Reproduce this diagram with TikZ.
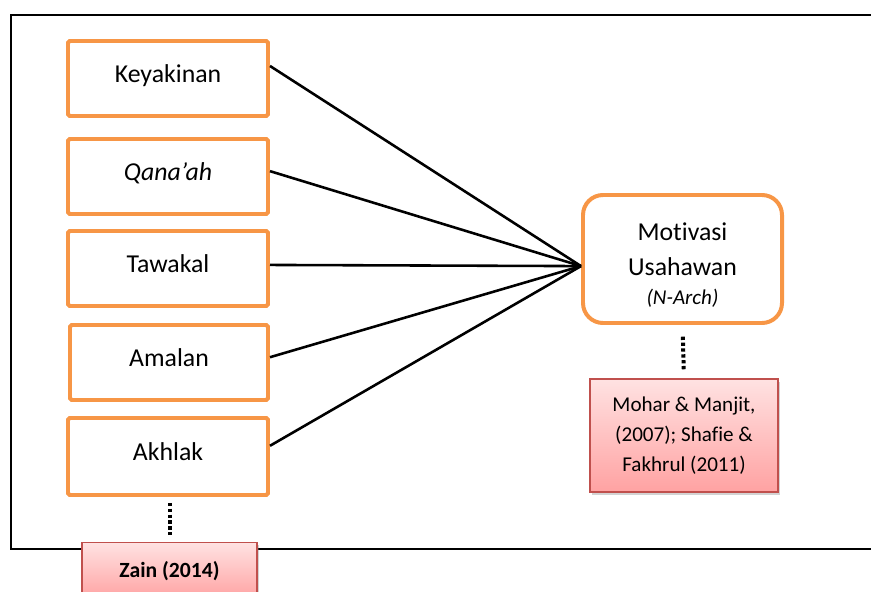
\documentclass[tikz,border=0pt]{standalone}
\usepackage{fontspec}
\setmainfont{Carlito}[Ligatures=NoCommon]
\usepackage{tikz}
\usetikzlibrary{shadows}

\definecolor{oren}{HTML}{F79646}
\definecolor{merah}{HTML}{C0504D}
\definecolor{merahatas}{HTML}{FFE2E2}
\definecolor{merahbawah}{HTML}{FFA2A2}

\tikzset{
  faktor/.style={draw=oren, line width=3.4pt, fill=white, rounded corners=1.5pt,
    minimum width=6cm, minimum height=2.25cm, text depth=9pt,
    font=\fontsize{22}{26}\selectfont},
  motivasi/.style={draw=oren, line width=3.4pt, fill=white, rounded corners=0.6cm,
    minimum width=5.97cm, minimum height=3.84cm, align=center,
    font=\fontsize{22}{30}\selectfont},
  rujukan/.style={draw=merah, line width=1pt, top color=merahatas, bottom color=merahbawah,
    drop shadow={opacity=0.35, shadow xshift=0.6mm, shadow yshift=-0.8mm},
    align=center, font=\fontsize{18}{25.5}\selectfont},
  garis/.style={line width=2.2pt},
  titik/.style={line width=3.4pt, dash pattern=on 2.8pt off 2.2pt}
}

\begin{document}
\begin{tikzpicture}[x=0.03cm, y=-0.03cm]
    \clip (0,0) rectangle (871,592);

    % bingkai luar
    \draw[line width=1.8pt] (11,15) rectangle (900,549);

    % faktor-faktor
    \node[faktor] (k) at (168,78.5) {Keyakinan};
    \node[faktor] (q) at (168,176.5) {\itshape Qana’ah};
    \node[faktor] (t) at (168,268.5) {Tawakal};
    \node[faktor, minimum width=5.94cm] (a) at (169,362.5) {Amalan};
    \node[faktor, minimum height=2.31cm] (h) at (168,456.5) {Akhlak};

    \node[motivasi] (m) at (682.5,259) {\rule{0pt}{26pt}Motivasi\\Usahawan\\[-5pt]{\fontsize{18}{20}\selectfont\itshape (N-Arch)}};

    % garis ke motivasi
    \draw[garis] (k.7) -- (m.184);
    \draw[garis] (q.3) -- (m.184);
    \draw[garis] (t.2) -- (m.184);
    \draw[garis] (a.3) -- (m.184);
    \draw[garis] (h.6) -- (m.184);

    % rujukan
    \node[rujukan, minimum width=5.64cm, minimum height=3.39cm] (r) at (684,435.5) {Mohar \& Manjit,\\(2007); Shafie \&\\Fakhrul (2011)};
    \node[rujukan, minimum width=5.25cm, minimum height=1.7cm, font=\fontsize{18.5}{20}\selectfont\bfseries] (z) at (169.5,571) {Zain (2014)};

    \draw[titik, shorten <=10pt, shorten >=6pt] (m.south) -- (r.north);
    \draw[titik, shorten <=5pt, shorten >=4pt] ([xshift=2pt]h.south) -- ([xshift=2pt]h.south |- z.north);

      % \draw[help lines](0,0) grid (871,592);
  \end{tikzpicture}
\end{document}
